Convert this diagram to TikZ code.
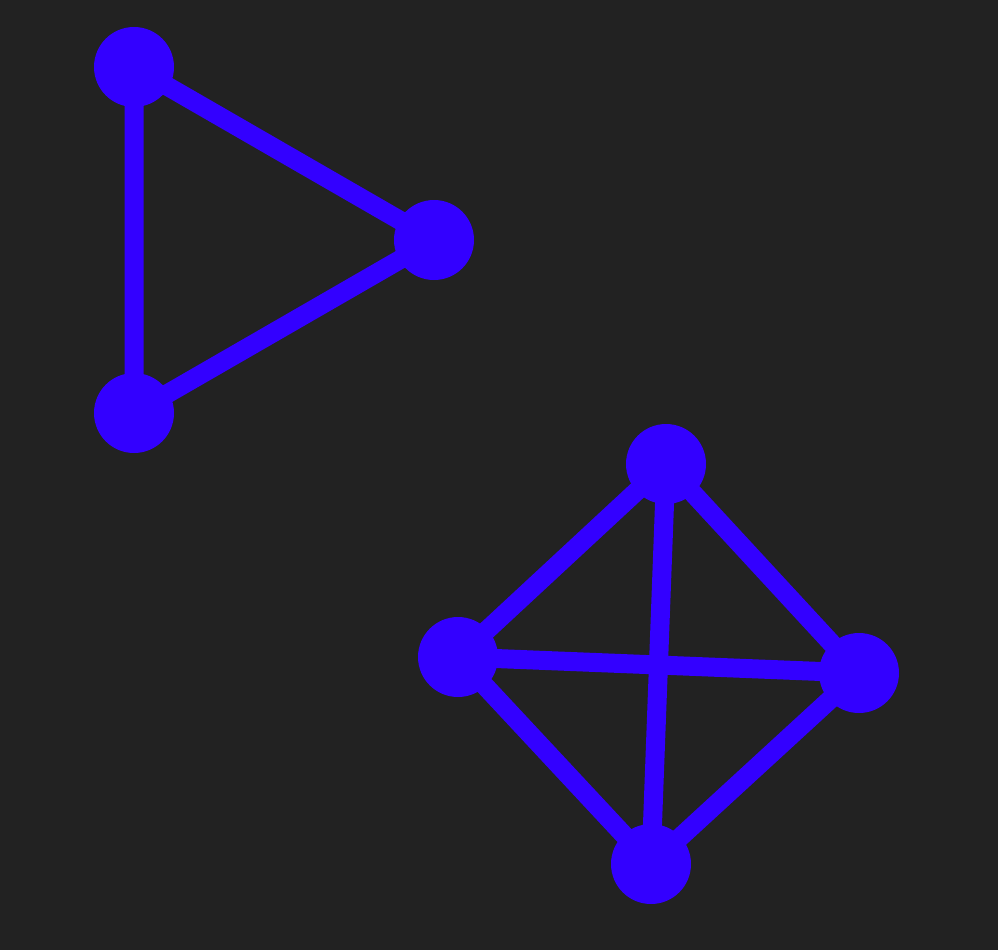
\documentclass[tikz,border=0pt]{standalone}
\usepackage{tikz}
\usetikzlibrary{positioning}
\definecolor{bgdark}{RGB}{34,34,34}
\definecolor{vblue}{RGB}{51,0,255}
\tikzset{
  vert/.style={circle,fill=vblue,minimum size=80pt,inner sep=0pt},
  edge/.style={draw=vblue,line width=19pt}
}

\begin{document}
\begin{tikzpicture}[x=1pt,y=-1pt]
  \fill[bgdark] (0,0) rectangle (998,950); % background
  \useasboundingbox (0,0) rectangle (998,950);
  % triangle
  \node[vert] (t1) at (134,67) {};
  \node[vert] (t2) at (434,240) {};
  \node[vert] (t3) at (134,413) {};
  \draw[edge] (t1.center) -- (t2.center) -- (t3.center) -- cycle;
  % complete graph on four vertices
  \node[vert] (q1) at (666,464) {};
  \node[vert] (q2) at (458,657) {};
  \node[vert] (q3) at (859,673) {};
  \node[vert] (q4) at (651,864) {};
  \draw[edge] (q1.center) -- (q2.center) -- (q4.center) -- (q3.center) -- cycle;
  \draw[edge] (q1.center) -- (q4.center);
  \draw[edge] (q2.center) -- (q3.center);
\end{tikzpicture}
\end{document}
